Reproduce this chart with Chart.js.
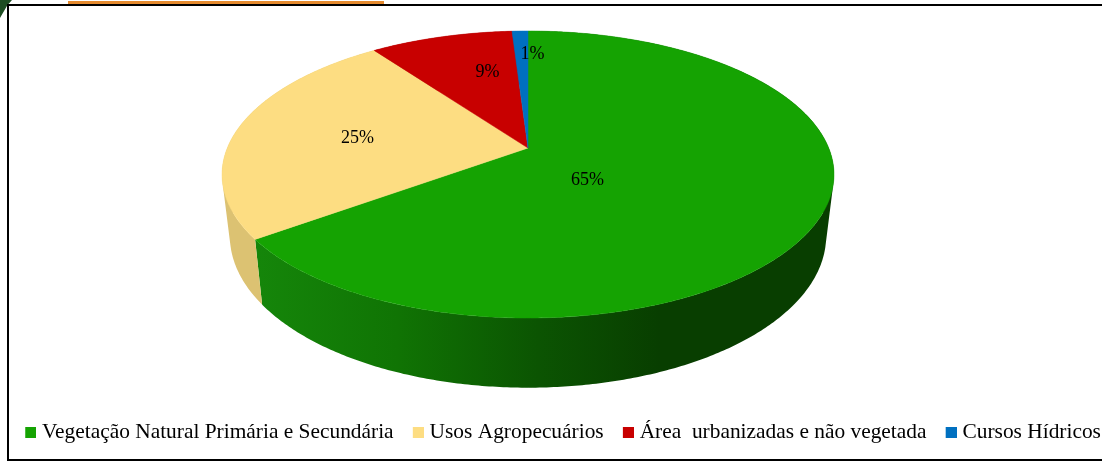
<!DOCTYPE html>
<html>
<head>
<meta charset="utf-8">
<style>
  html, body { margin: 0; background: #fff; overflow: hidden; }
  #wrap { position: relative; width: 1102px; height: 462px; overflow: hidden; }
  #grafico { position: absolute; left: 0; top: 0; }
  #marco { position: absolute; left: 7px; top: 4px; width: 1095px; height: 457px;
           box-sizing: border-box; border: 2px solid #000; border-right: 0; background: #fff; }
  #franja { position: absolute; left: 68px; top: 1px; width: 316px; height: 3px; background: #e58a2e; }
  #esquina { position: absolute; left: 0; top: 0; width: 12px; height: 18px; background: #1d4d22;
             clip-path: polygon(0 0, 100% 0, 60% 30%, 0 100%); }
</style>
</head>
<body>
<div id="wrap">
  <div id="esquina"></div>
  <div id="franja"></div>
  <div id="marco"></div>
  <!-- mas ancho que la pagina para que la leyenda no parta en dos lineas -->
  <canvas id="grafico" width="1140" height="462"></canvas>
</div>
<script src="https://cdn.jsdelivr.net/npm/chart.js@4"></script>
<script>
const categorias = [
  "Vegetação Natural Primária e Secundária",
  "Usos Agropecuários",
  "Área  urbanizadas e não vegetada",
  "Cursos Hídricos",
];
const valores = [65, 25, 9, 1];
const colores = ["#15a302", "#fddd82", "#c80000", "#0070c0"];
const coloresLado = ["#15a302", "#dcc272", "#8f0000", "#00508a"];

// perspectiva del disco: tapa y base son la misma circunferencia proyectada
const tapa = { cx: 528, cy: 148, a: 300.7, b: 138.6, k: 0.1847 };
const base = { cx: 528, cy: 208, a: 293, b: 146.5, k: 0.1847 };

function proyectar(plano, angulo, r = 1) {
  const u = Math.cos(angulo) * r;
  const v = Math.sin(angulo) * r;
  const d = 1 - plano.k * v;
  return { x: plano.cx + (plano.a * u) / d, y: plano.cy + (plano.b * v) / d };
}

function trazarBorde(ctx, plano, desde, hasta) {
  const pasos = Math.max(2, Math.ceil(Math.abs(hasta - desde) / 0.01));
  for (let i = 0; i <= pasos; i++) {
    const p = proyectar(plano, desde + ((hasta - desde) * i) / pasos);
    ctx.lineTo(p.x, p.y);
  }
}

class Arco3D extends Chart.ArcElement {
  dibujarLado(ctx, indice) {
    const { startAngle, endAngle } = this.getProps(["startAngle", "endAngle"]);
    ctx.save();
    let relleno = coloresLado[indice];
    if (indice === 0) {
      relleno = ctx.createLinearGradient(255, 0, 660, 0);
      relleno.addColorStop(0, "#15860a");
      relleno.addColorStop(0.35, "#107404");
      relleno.addColorStop(0.7, "#0b5402");
      relleno.addColorStop(1, "#083e00");
    }
    ctx.fillStyle = relleno;
    // tiras entre tapa y base, todas en el mismo sentido para que se sumen
    // en un solo relleno; asi la silueta queda recta y sin costuras
    const paso = 0.01;
    ctx.beginPath();
    for (let t = startAngle; t < endAngle; t += paso) {
      const fin = Math.min(t + paso, endAngle);
      const q = [proyectar(tapa, t), proyectar(tapa, fin), proyectar(base, fin), proyectar(base, t)];
      let area = 0;
      q.forEach((p, i) => {
        const s = q[(i + 1) % 4];
        area += p.x * s.y - s.x * p.y;
      });
      if (area < 0) q.reverse();
      ctx.moveTo(q[0].x, q[0].y);
      ctx.lineTo(q[1].x, q[1].y);
      ctx.lineTo(q[2].x, q[2].y);
      ctx.lineTo(q[3].x, q[3].y);
      ctx.closePath();
    }
    ctx.fill();
    ctx.restore();
  }

  draw(ctx) {
    const { startAngle, endAngle } = this.getProps(["startAngle", "endAngle"]);
    ctx.save();
    ctx.beginPath();
    ctx.moveTo(tapa.cx, tapa.cy);
    trazarBorde(ctx, tapa, startAngle, endAngle);
    ctx.closePath();
    ctx.fillStyle = this.options.backgroundColor;
    ctx.strokeStyle = this.options.backgroundColor;
    ctx.lineWidth = 0.5;
    ctx.fill();
    ctx.stroke();
    ctx.restore();
  }
}
Arco3D.id = "arco3d";
Arco3D.defaults = Chart.ArcElement.defaults;

class Torta3D extends Chart.PieController {
  draw() {
    const ctx = this.chart.ctx;
    this.getMeta().data.forEach((arco, i) => arco.dibujarLado(ctx, i));
    super.draw();
  }
}
Torta3D.id = "torta3d";
Torta3D.defaults = { ...Chart.PieController.defaults, dataElementType: "arco3d" };
Torta3D.overrides = Chart.PieController.overrides;

// los % van dentro de cada porcion, con un ajuste a mano como en el original
const etiquetas = {
  id: "etiquetas",
  afterDatasetsDraw(chart) {
    const ctx = chart.ctx;
    const ajustes = [
      { r: 0.3, dx: -23, dy: 13 },
      { r: 0.57, dx: -4, dy: 2 },
      { r: 0.65, dx: 19, dy: 0 },
      { r: 0.8, dx: 11, dy: 3 },
    ];
    ctx.save();
    ctx.font = "18px 'Liberation Serif'";
    ctx.fillStyle = "#000";
    ctx.textAlign = "center";
    ctx.textBaseline = "middle";
    chart.getDatasetMeta(0).data.forEach((arco, i) => {
      const { startAngle, endAngle } = arco.getProps(["startAngle", "endAngle"]);
      const p = proyectar(tapa, (startAngle + endAngle) / 2, ajustes[i].r);
      ctx.fillText(valores[i] + "%", p.x + ajustes[i].dx, p.y + ajustes[i].dy);
    });
    ctx.restore();
  },
};

// cuadrito de la leyenda: corrido a la derecha para que quede pegado al texto
function cuadritoLeyenda(color) {
  const c = document.createElement("canvas");
  c.width = 16;
  c.height = 11;
  const g = c.getContext("2d");
  g.fillStyle = color;
  g.fillRect(5, 0, 11, 11);
  return c;
}

Chart.register(Arco3D, Torta3D);

new Chart(document.getElementById("grafico"), {
  type: "torta3d",
  data: {
    labels: categorias,
    datasets: [{ data: valores, backgroundColor: colores, borderWidth: 0 }],
  },
  options: {
    responsive: false,
    animation: false,
    layout: { padding: { left: 6, right: 0, bottom: 9 } },
    plugins: {
      tooltip: { enabled: false },
      legend: {
        position: "bottom",
        align: "start",
        labels: {
          usePointStyle: true,
          boxWidth: 6.2,
          boxHeight: 11,
          padding: 19.1,
          color: "#000",
          font: { family: "'Liberation Serif'", size: 21.4 },
          generateLabels: (chart) =>
            categorias.map((texto, i) => ({
              text: texto,
              fontColor: "#000",
              pointStyle: cuadritoLeyenda(colores[i]),
              datasetIndex: 0,
              index: i,
            })),
        },
      },
    },
  },
  plugins: [etiquetas],
});
</script>
</body>
</html>
